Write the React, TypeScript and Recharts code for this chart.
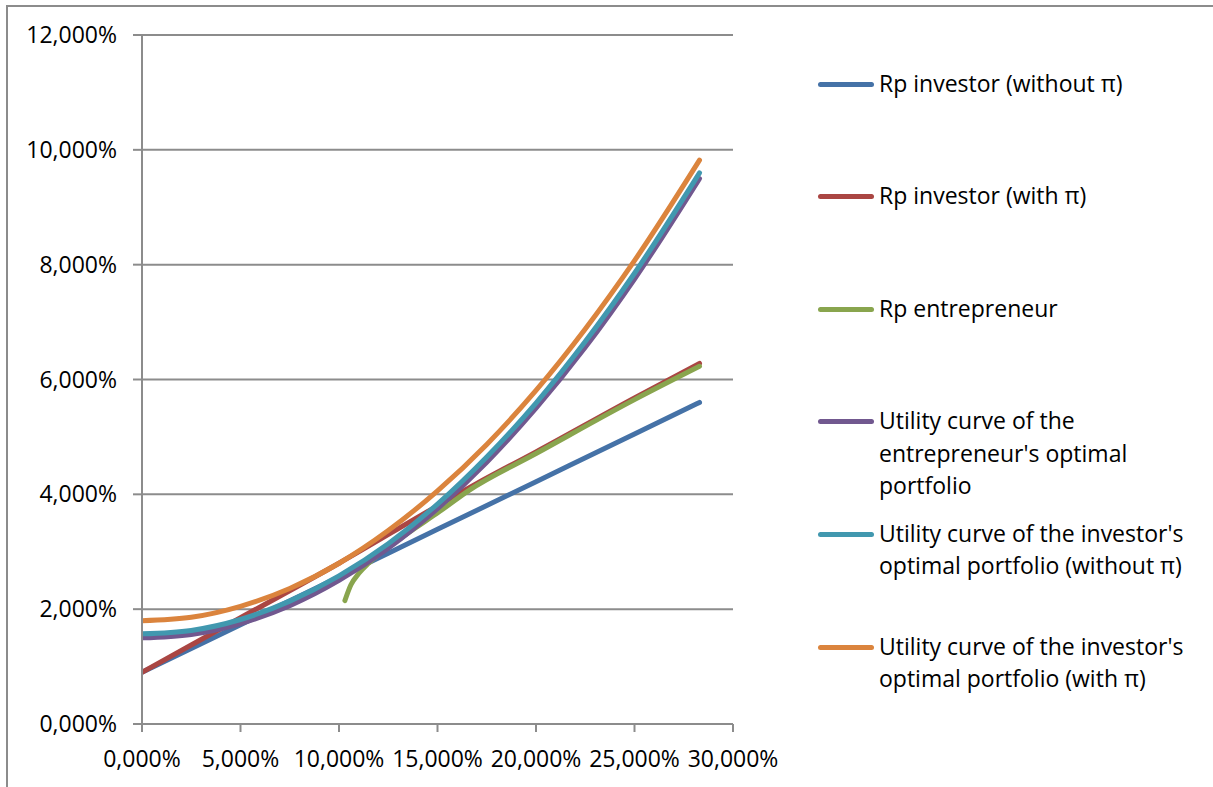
import { CartesianGrid, Legend, Line, LineChart, XAxis, YAxis } from 'recharts';

// sigma (x, %) grid for the utility curves
const utilitySigma = [0, 2.5, 5, 7.5, 10, 12.5, 15, 17.5, 20, 22.5, 25, 28.3];
const utilityEntrepreneur = [1.5, 1.56, 1.75, 2.06, 2.5, 3.06, 3.75, 4.56, 5.5, 6.56, 7.75, 9.5];
const utilityInvestorNoPi = [1.57, 1.63, 1.82, 2.14, 2.58, 3.14, 3.83, 4.65, 5.59, 6.66, 7.85, 9.6];
const utilityInvestorPi = [1.8, 1.86, 2.05, 2.36, 2.8, 3.37, 4.06, 4.87, 5.81, 6.88, 8.07, 9.82];

const rpNoPiSigma = [0, 5, 10, 15, 20, 25, 28.3];
const rpInvestorNoPi = [0.9, 1.73, 2.56, 3.39, 4.22, 5.05, 5.6];

const rpPiSigma = [0, 5, 10, 15, 17, 20, 25, 28.3];
const rpInvestorPi = [0.9, 1.85, 2.8, 3.8, 4.19, 4.74, 5.68, 6.28];

const entrepreneurSigma = [10.3, 10.6, 11, 11.5, 12.1, 13.6, 15.1, 16.6, 20, 25, 28.3];
const rpEntrepreneur = [2.15, 2.42, 2.62, 2.8, 2.98, 3.35, 3.7, 4.07, 4.71, 5.65, 6.23];

const xTicks = [0, 5, 10, 15, 20, 25, 30];
const yTicks = [0, 2, 4, 6, 8, 10, 12];

const zip = (xs: number[], ys: number[]) => xs.map((x, i) => ({ x, y: ys[i] }));

const FONT = "'Open Sans', sans-serif";
const FONT_SIZE = 23;
const GRID = '#8c8c8c';

interface SeriesDef {
  key: string;
  lines: string[];
  color: string;
  data: { x: number; y: number }[];
}

const series: SeriesDef[] = [
  { key: 'rpNoPi', lines: ['Rp investor (without π)'], color: '#4572A7', data: zip(rpNoPiSigma, rpInvestorNoPi) },
  { key: 'rpPi', lines: ['Rp investor (with π)'], color: '#AA4643', data: zip(rpPiSigma, rpInvestorPi) },
  { key: 'rpEnt', lines: ['Rp entrepreneur'], color: '#89A54E', data: zip(entrepreneurSigma, rpEntrepreneur) },
  {
    key: 'uEnt',
    lines: ['Utility curve of the', "entrepreneur's optimal", 'portfolio'],
    color: '#71588F',
    data: zip(utilitySigma, utilityEntrepreneur),
  },
  {
    key: 'uNoPi',
    lines: ["Utility curve of the investor's", 'optimal portfolio (without π)'],
    color: '#4198AF',
    data: zip(utilitySigma, utilityInvestorNoPi),
  },
  {
    key: 'uPi',
    lines: ["Utility curve of the investor's", 'optimal portfolio (with π)'],
    color: '#DB843D',
    data: zip(utilitySigma, utilityInvestorPi),
  },
];

const fmt = (v: number) => `${v.toFixed(3).replace('.', ',')}%`;

const legendLeft = 810;

function renderLegend() {
  return (
    <div
      style={{ position: 'relative', width: 400, height: 787, fontFamily: FONT, fontSize: FONT_SIZE, color: '#000' }}
    >
      {series.map((s, i) => {
        const cy = 84 + i * 112.6;
        return (
          <div key={s.key}>
            <span
              style={{
                position: 'absolute',
                left: 818 - legendLeft,
                top: cy - 2.5,
                width: 56,
                height: 5,
                borderRadius: 3,
                background: s.color,
              }}
            />
            <div
              style={{
                position: 'absolute',
                left: 879 - legendLeft,
                top: cy - 17.5,
                lineHeight: '32.5px',
                whiteSpace: 'nowrap',
              }}
            >
              {s.lines.map((l) => (
                <div key={l}>{l}</div>
              ))}
            </div>
          </div>
        );
      })}
    </div>
  );
}

export default function App() {
  return (
    <div
      style={{
        position: 'absolute',
        left: 0,
        top: 0,
        width: 1213,
        height: 787,
        overflow: 'hidden',
        background: '#fff',
      }}
    >
      <div
        style={{
          position: 'absolute',
          left: 6,
          top: 5,
          width: 1400,
          height: 1000,
          borderLeft: `2px solid ${GRID}`,
          borderTop: `2px solid ${GRID}`,
        }}
      />
      <LineChart width={1213} height={787} margin={{ top: 35, right: 480, bottom: 8, left: 8 }}>
        <CartesianGrid horizontal vertical={false} stroke={GRID} strokeWidth={2} />
        <XAxis
          type="number"
          dataKey="x"
          domain={[0, 30]}
          ticks={xTicks}
          tickFormatter={fmt}
          height={55}
          tickSize={8}
          tickMargin={19}
          axisLine={{ stroke: GRID, strokeWidth: 2 }}
          tickLine={{ stroke: GRID, strokeWidth: 2 }}
          tick={{ fill: '#000', fontSize: FONT_SIZE, fontFamily: FONT }}
          allowDataOverflow
        />
        <YAxis
          type="number"
          domain={[0, 12]}
          ticks={yTicks}
          tickFormatter={fmt}
          width={134}
          tickSize={9}
          tickMargin={16}
          axisLine={{ stroke: GRID, strokeWidth: 2 }}
          tickLine={{ stroke: GRID, strokeWidth: 2 }}
          tick={{ fill: '#000', fontSize: FONT_SIZE, fontFamily: FONT }}
        />
        <Legend
          layout="horizontal"
          verticalAlign="middle"
          align="center"
          wrapperStyle={{ left: legendLeft, top: 0, width: 400, height: 787 }}
          content={renderLegend}
        />
        {series.map((s) => (
          <Line
            key={s.key}
            data={s.data}
            dataKey="y"
            type="monotone"
            stroke={s.color}
            strokeWidth={5}
            strokeLinecap="round"
            strokeLinejoin="round"
            dot={false}
            activeDot={false}
            isAnimationActive={false}
          />
        ))}
      </LineChart>
    </div>
  );
}
